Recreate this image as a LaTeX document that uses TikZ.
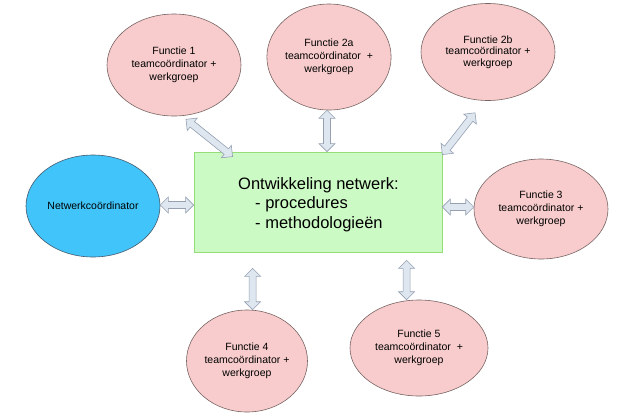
\documentclass[tikz,border=0pt]{standalone}
\usepackage{fontspec}
\setmainfont{Liberation Sans}
\usetikzlibrary{shapes.geometric,calc}
\definecolor{pinkfill}{RGB}{248,204,204}
\definecolor{pinkdraw}{RGB}{120,100,100}
\definecolor{bluefill}{RGB}{64,196,250}
\definecolor{bluedraw}{RGB}{70,90,110}
\definecolor{greenfill}{RGB}{204,250,196}
\definecolor{greendraw}{RGB}{150,220,120}
\definecolor{arrowfill}{RGB}{222,230,240}
\definecolor{arrowdraw}{RGB}{150,160,178}
\tikzset{
  func/.style={ellipse, draw=pinkdraw, line width=0.6pt, fill=pinkfill, inner sep=0pt,
    align=center, font=\fontsize{10.5}{13}\selectfont},
  coord/.style={ellipse, draw=bluedraw, line width=0.6pt, fill=bluefill, inner sep=0pt,
    align=center, font=\fontsize{10.5}{13}\selectfont},
  mainbox/.style={rectangle, draw=greendraw, line width=0.8pt, fill=greenfill, inner sep=0pt,
    minimum width=248pt, minimum height=100pt},
  blockarr/.style={draw=arrowdraw, fill=arrowfill, line width=0.6pt, line join=miter}
}
% double block arrow from #1 to #2: head width 16, shaft width 7, head length 8
\newcommand{\blockarrow}[2]{%
  \path[blockarr] let \p1=(#1), \p2=(#2), \n2={veclen(\x2-\x1,\y2-\y1)} in
    (#1)
    -- ($(#1)!8pt!(#2)!8pt!90:(#2)$)
    -- ($(#1)!8pt!(#2)!3.5pt!90:(#2)$)
    -- ($(#1)!\n2-8pt!(#2)!3.5pt!90:(#2)$)
    -- ($(#1)!\n2-8pt!(#2)!8pt!90:(#2)$)
    -- (#2)
    -- ($(#1)!\n2-8pt!(#2)!8pt!-90:(#2)$)
    -- ($(#1)!\n2-8pt!(#2)!3.5pt!-90:(#2)$)
    -- ($(#1)!8pt!(#2)!3.5pt!-90:(#2)$)
    -- ($(#1)!8pt!(#2)!8pt!-90:(#2)$)
    -- cycle;}
\begin{document}
\begin{tikzpicture}[x=1pt,y=-1pt]
\useasboundingbox (0,0) rectangle (619,416);
% nodes
\node[mainbox] (main) at (318,202) {};
\node[align=left, font=\fontsize{16.5}{19.5}\selectfont, inner sep=0pt, anchor=north west] (maintext) at (238,177)
  {Ontwikkeling netwerk:\\\hspace{17pt}- procedures\\\hspace{17pt}- methodologieën};
\node[func, minimum width=134pt, minimum height=102pt] (f1) at (174,65) {Functie 1\\teamcoördinator +\\werkgroep};
\node[func, minimum width=121pt, minimum height=106pt] (f2a) at (329,57) {Functie 2a\\teamcoördinator\ \ +\\werkgroep};
\node[func, minimum width=134pt, minimum height=97pt, font=\fontsize{10.5}{11.5}\selectfont] (f2b) at (488,52) {Functie 2b\\teamcoördinator +\\werkgroep};
\node[coord, minimum width=134pt, minimum height=102pt] (net) at (93,206) {Netwerkcoördinator};
\node[func, minimum width=134pt, minimum height=100pt] (f3) at (541,209) {Functie 3\\teamcoördinator +\\werkgroep};
\node[func, minimum width=121pt, minimum height=102pt] (f4) at (247,361) {Functie 4\\teamcoördinator +\\werkgroep};
\node[func, minimum width=138pt, minimum height=96pt] (f5) at (419,348) {Functie 5\\teamcoördinator\ \ +\\werkgroep};
% arrow end points
\coordinate (a1s) at ($(f1.south)+(12,3)$);
\coordinate (a1e) at ($(main.north west)+(39,5)$);
\coordinate (a2s) at ($(f2a.south)+(-2,0)$);
\coordinate (a2e) at (a2s |- main.north);
\coordinate (a3s) at ($(f2b.south)+(-13,12)$);
\coordinate (a3e) at ($(main.north east)+(0,3)$);
\coordinate (a4s) at (net.east |- 0,205);
\coordinate (a4e) at (a4s -| main.west);
\coordinate (a5s) at (main.east |- 0,207);
\coordinate (a5e) at (a5s -| f3.west);
\coordinate (a6s) at ($(main.south west)+(59,16)$);
\coordinate (a6e) at (a6s |- f4.north);
\coordinate (a7s) at ($(main.south west)+(213,8)$);
\coordinate (a7e) at (a7s |- f5.north);
\blockarrow{a1s}{a1e}
\blockarrow{a2s}{a2e}
\blockarrow{a3s}{a3e}
\blockarrow{a4s}{a4e}
\blockarrow{a5s}{a5e}
\blockarrow{a6s}{a6e}
\blockarrow{a7s}{a7e}
\end{tikzpicture}
\end{document}
